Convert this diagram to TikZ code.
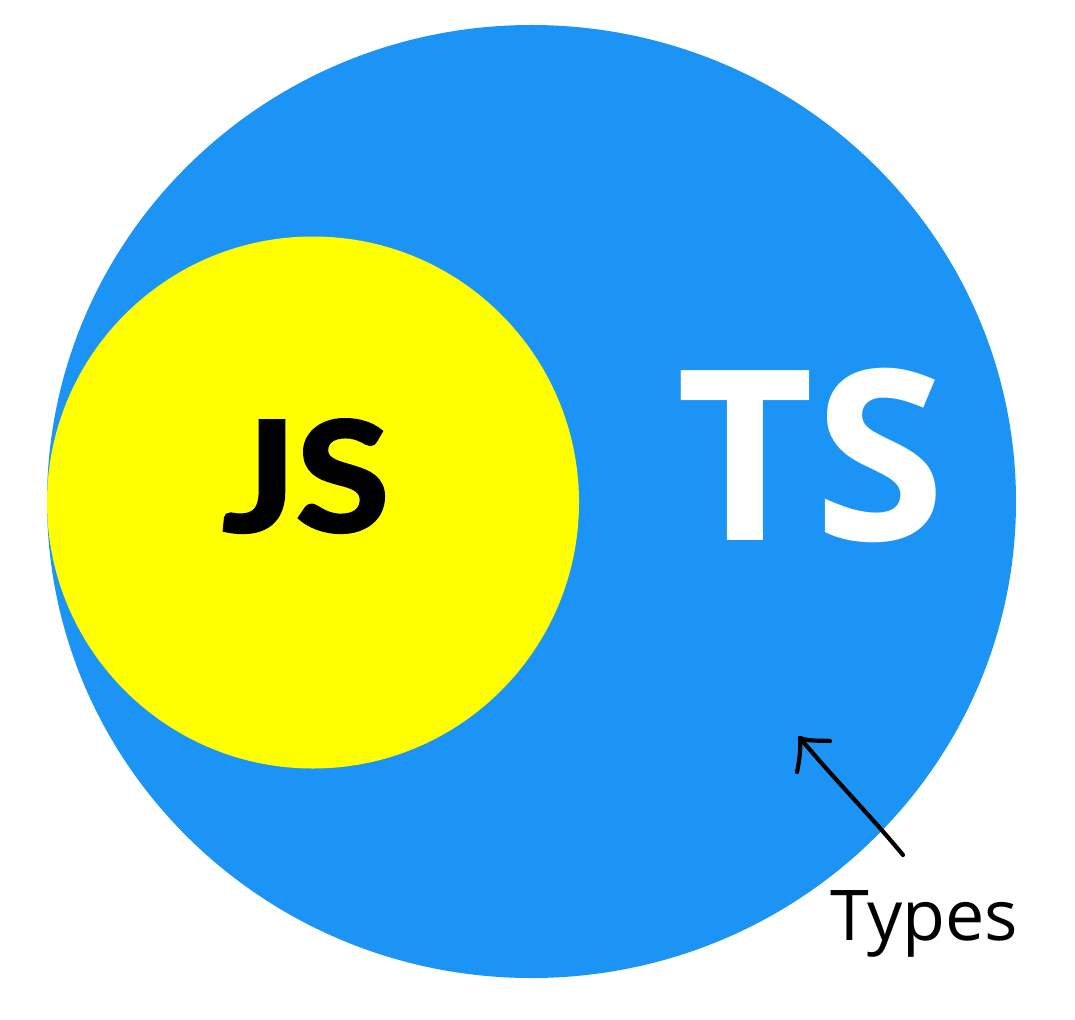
\documentclass[tikz,border=0pt]{standalone}
\usepackage{fontspec}
\setmainfont{Open Sans}
\newfontfamily\jsfont{Lato}[FakeBold=2.5, FakeStretch=1.12]
\usetikzlibrary{positioning,calc,shapes.geometric}
\definecolor{tsblue}{HTML}{1C94F5}
\definecolor{jsyellow}{HTML}{FFFF00}
\tikzset{
    set/.style={inner sep=0pt, outer sep=0pt},
    big label/.style={inner sep=0pt, anchor=base, font=\bfseries\fontsize{#1}{#1}\selectfont},
    pen/.style={line width=4.2pt, line cap=round, line join=round, black},
}
\newcommand{\setsize}[1]{\fontsize{#1}{#1}\selectfont}

\begin{document}
\begin{tikzpicture}[x=1pt, y=-1pt]
    \useasboundingbox (0,0) rectangle (1075,1019);
    % the two sets
    \node[set, ellipse, fill=tsblue, minimum width=969pt, minimum height=953pt] (ts) at (531.5,501.5) {};
    \node[set, circle, fill=jsyellow, minimum size=532pt] (js) at (313,502.5) {};
    % labels
    \node[big label=238pt, text=white] (tslabel) at (811,540) {TS};
    \node[big label=152pt, text=black] (jslabel) at (306,531) {\jsfont JS};
    \node[inner sep=0pt, anchor=base west, font=\setsize{70pt}] (types) at (830,940) {Types};
    % hand drawn arrow
    \coordinate (tail) at (903,855);
    \coordinate (tip) at (800,738);
    \draw[pen] (tail) .. controls (870,815) and (835,780) .. (tip);
    \draw[pen] (tip) .. controls (812,742) and (820,740) .. (830,741);
    \draw[pen] (tip) .. controls (801,750) and (799,762) .. (797,772);
\end{tikzpicture}
\end{document}
